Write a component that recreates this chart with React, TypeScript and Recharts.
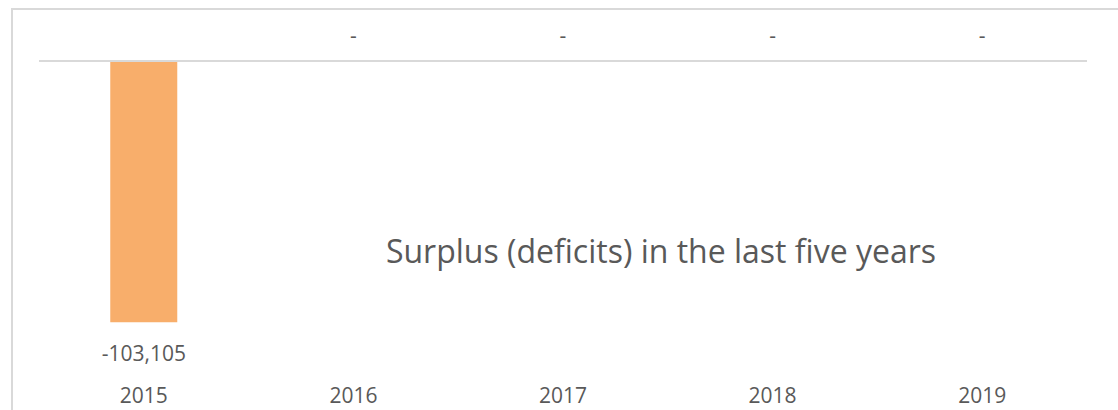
import { Bar, ComposedChart, LabelList, Line, ReferenceLine, XAxis, YAxis } from "recharts";

const years = ["2015", "2016", "2017", "2018", "2019"];
const surplus = [-103105, 0, 0, 0, 0];

const data = years.map((year, i) => ({ year, surplus: surplus[i] }));

const FONT = "'Open Sans', sans-serif";
const TEXT = "#595959";
const LINE = "#d9d9d9";

// accounting-style label: zero shows as a dash above the axis, negatives below the bar end
function ValueLabel(props: any) {
  const { x, y, value } = props;
  const v = Number(value);
  const text = v ? v.toLocaleString("en-US") : "-";
  const ty = v ? Number(y) + 31 : Number(y) - 26;
  return (
    <text x={x} y={ty} textAnchor="middle" dominantBaseline="central" fill={TEXT} fontSize={21} fontFamily={FONT}>
      {text}
    </text>
  );
}

function YearTick(props: any) {
  const { x, y, payload } = props;
  return (
    <text x={x} y={y + 22} textAnchor="middle" dominantBaseline="central" fill={TEXT} fontSize={21} fontFamily={FONT}>
      {payload.value}
    </text>
  );
}

export default function App() {
  return (
    <div style={{ position: "absolute", left: 0, top: 0, width: 1118, height: 410, overflow: "hidden", background: "#fff" }}>
      <div style={{ position: "absolute", left: 11, top: 8, width: 1200, height: 500, border: `2px solid ${LINE}` }} />
      <div style={{ position: "absolute", left: 0, top: 0 }}>
        <ComposedChart width={1118} height={410} data={data} margin={{ top: 61, right: 31, left: 39, bottom: 0 }} barCategoryGap="34%">
          <XAxis dataKey="year" axisLine={false} tickLine={false} height={45} tick={<YearTick />} interval={0} />
          <YAxis hide domain={[-120000, 0]} />
          <ReferenceLine y={0} stroke={LINE} strokeWidth={2} />
          <Bar dataKey="surplus" fill="#f8ae6b" isAnimationActive={false} />
          {/* invisible series used only to place the value labels */}
          <Line dataKey="surplus" stroke="none" dot={false} activeDot={false} isAnimationActive={false}>
            <LabelList dataKey="surplus" content={<ValueLabel />} />
          </Line>
        </ComposedChart>
      </div>
      <div
        style={{
          position: "absolute",
          left: 661,
          top: 250,
          transform: "translate(-50%, -50%)",
          whiteSpace: "nowrap",
          fontFamily: FONT,
          fontSize: 32,
          color: TEXT,
        }}
      >
        Surplus (deficits) in the last five years
      </div>
    </div>
  );
}
